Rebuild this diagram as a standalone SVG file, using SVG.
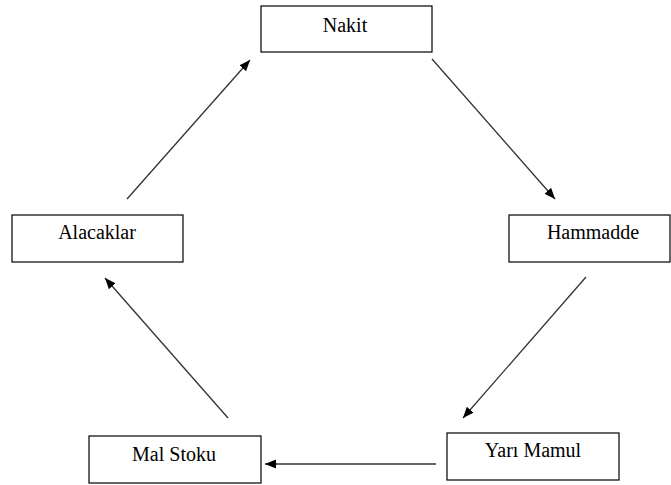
<svg xmlns="http://www.w3.org/2000/svg" width="671" height="485" viewBox="0 0 671 485">
  <style>
    .box { fill: #ffffff; stroke: #000000; stroke-width: 1.2; }
    .lbl { font-family: "Liberation Serif", "Times New Roman", serif; font-size: 20px; fill: #000000; text-anchor: middle; }
    .edge { stroke: #333333; stroke-width: 1.3; fill: none; marker-end: url(#head); }
  </style>
  <defs>
    <marker id="head" markerUnits="userSpaceOnUse" markerWidth="12" markerHeight="10" refX="11" refY="4.5" orient="auto">
      <path d="M0,0 L11,4.5 L0,9 Z" fill="#000000"/>
    </marker>
  </defs>
  <rect width="671" height="485" fill="#ffffff"/>

  <g id="connectors">
    <line class="edge" x1="127" y1="199" x2="250" y2="60"/>
    <line class="edge" x1="432" y1="59" x2="555" y2="199"/>
    <line class="edge" x1="586" y1="277" x2="463" y2="418"/>
    <line class="edge" x1="436" y1="464" x2="265" y2="464"/>
    <line class="edge" x1="228" y1="418" x2="105" y2="278"/>
  </g>

  <g id="nakit">
    <rect class="box" x="261" y="6" width="171" height="46"/>
    <text class="lbl" x="345" y="32">Nakit</text>
  </g>
  <g id="hammadde">
    <rect class="box" x="509" y="215" width="161" height="47"/>
    <text class="lbl" x="593" y="239">Hammadde</text>
  </g>
  <g id="yari-mamul">
    <rect class="box" x="447" y="433" width="172" height="47"/>
    <text class="lbl" x="533" y="457">Yarı Mamul</text>
  </g>
  <g id="mal-stoku">
    <rect class="box" x="89" y="436" width="172" height="47"/>
    <text class="lbl" x="174" y="461">Mal Stoku</text>
  </g>
  <g id="alacaklar">
    <rect class="box" x="12" y="215" width="171" height="47"/>
    <text class="lbl" x="97" y="239">Alacaklar</text>
  </g>
</svg>
